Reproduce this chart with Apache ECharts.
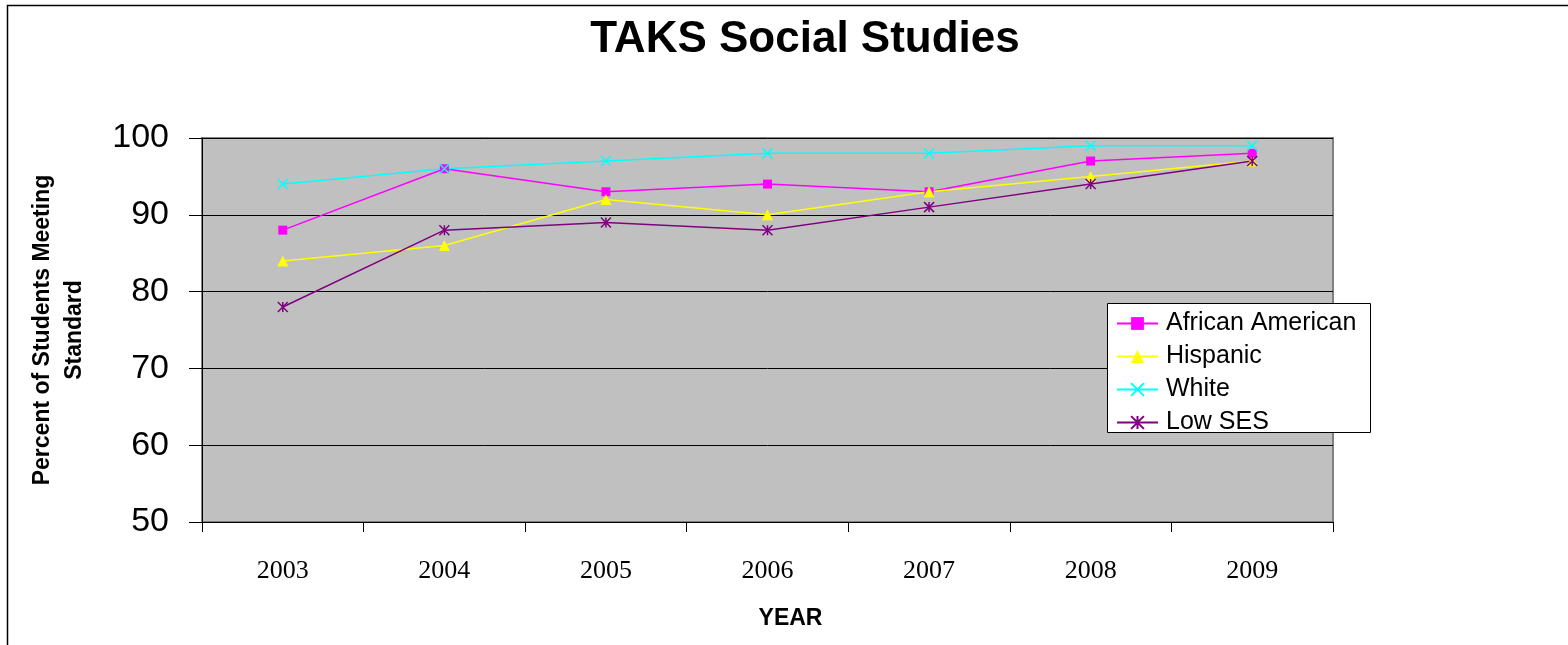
<!DOCTYPE html>
<html>
<head>
<meta charset="utf-8">
<script src="https://cdn.jsdelivr.net/npm/echarts@6/dist/echarts.min.js"></script>
<style>
html,body{margin:0;padding:0;background:#fff;}
#chart{width:1568px;height:645px;}
</style>
</head>
<body>
<div id="chart"></div>
<script>
const years = ['2003', '2004', '2005', '2006', '2007', '2008', '2009'];
const africanAmerican = [88, 96, 93, 94, 93, 97, 98];
const hispanic = [84, 86, 92, 90, 93, 95, 97];
const white = [94, 96, 97, 98, 98, 99, 99];
const lowSES = [78, 88, 89, 88, 91, 94, 97];
const yMin = 50, yMax = 100, yStep = 10;

const crossPath = 'path://M0,0L10,10M10,0L0,10';
const starPath = 'path://M0,0L10,10M10,0L0,10M5,0L5,10';

const chart = echarts.init(document.getElementById('chart'));
chart.setOption({
  animation: false,
  backgroundColor: '#ffffff',
  grid: {
    left: 202, top: 138, right: 235, bottom: 123,
    show: true, backgroundColor: '#C0C0C0', borderColor: '#808080', borderWidth: 2
  },
  graphic: [
    { type: 'rect', z: 0, shape: { x: 7.5, y: 5.5, width: 1620, height: 700 },
      style: { fill: null, stroke: '#000', lineWidth: 1.5 } },
    { type: 'text', z: 10, x: 805, y: 40,
      style: { text: 'TAKS Social Studies', font: 'bold 44px Arial', fill: '#000',
               textAlign: 'center', textVerticalAlign: 'middle' } },
    { type: 'rect', z: 3, shape: { x: 1107.5, y: 303.5, width: 263, height: 129 },
      style: { fill: '#fff', stroke: '#000', lineWidth: 1 } }
  ],
  legend: {
    orient: 'vertical', left: 1116, top: 311, padding: 0, z: 20,
    itemWidth: 41, itemHeight: 16, itemGap: 8,
    textStyle: { fontFamily: 'Arial', fontSize: 25, color: '#000', lineHeight: 24, padding: [0, 0, 0, 3] },
    data: ['African American', 'Hispanic', 'White', 'Low SES']
  },
  xAxis: {
    type: 'category', data: years, boundaryGap: true,
    name: 'YEAR', nameLocation: 'middle', nameGap: 85,
    nameTextStyle: { fontFamily: 'Arial', fontWeight: 'bold', fontSize: 23, color: '#000', padding: [0, 0, 0, 46] },
    axisLine: { lineStyle: { color: '#000', width: 1 } },
    axisTick: { show: true, length: 10, lineStyle: { color: '#000' } },
    axisLabel: { fontFamily: 'Liberation Serif', fontSize: 26, color: '#000', margin: 36 },
    splitLine: { show: false }
  },
  yAxis: {
    type: 'value', min: yMin, max: yMax, interval: yStep,
    name: 'Percent of Students Meeting\nStandard', nameLocation: 'middle', nameRotate: 90, nameGap: 111,
    nameTextStyle: { fontFamily: 'Arial', fontWeight: 'bold', fontSize: 23, lineHeight: 32, color: '#000', align: 'center' },
    axisLine: { show: true, lineStyle: { color: '#000', width: 1 } },
    axisTick: { show: true, length: 13, lineStyle: { color: '#000' } },
    axisLabel: { fontFamily: 'Arial', fontSize: 34, color: '#000', margin: 33, padding: [8, 0, 0, 0] },
    splitLine: { show: true, lineStyle: { color: '#000', width: 1 } }
  },
  series: [
    { name: 'African American', type: 'line', data: africanAmerican,
      symbol: 'rect', symbolSize: 9,
      lineStyle: { color: '#FF00FF', width: 1.5 },
      itemStyle: { color: '#FF00FF', borderWidth: 0 } },
    { name: 'Hispanic', type: 'line', data: hispanic,
      symbol: 'triangle', symbolSize: 11,
      lineStyle: { color: '#FFFF00', width: 1.5 },
      itemStyle: { color: '#FFFF00', borderWidth: 0 } },
    { name: 'White', type: 'line', data: white,
      symbol: crossPath, symbolSize: 10,
      lineStyle: { color: '#00FFFF', width: 1.5 },
      itemStyle: { color: '#00FFFF', borderColor: '#00FFFF', borderWidth: 1.5 } },
    { name: 'Low SES', type: 'line', data: lowSES,
      symbol: starPath, symbolSize: 10,
      lineStyle: { color: '#800080', width: 1.5 },
      itemStyle: { color: '#800080', borderColor: '#800080', borderWidth: 1.5 } }
  ]
});
</script>
</body>
</html>
